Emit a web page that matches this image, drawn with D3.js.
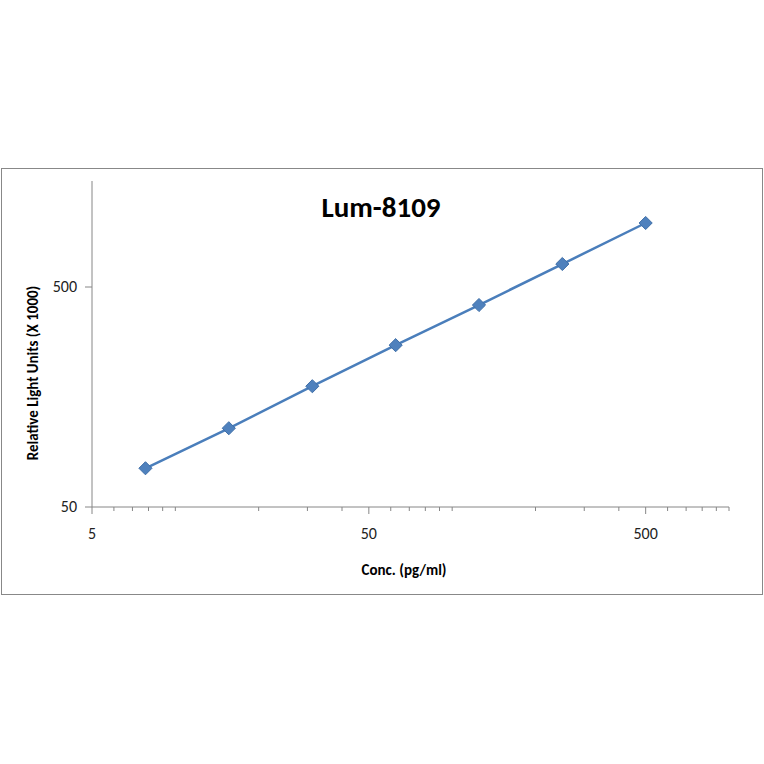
<!DOCTYPE html>
<html><head><meta charset="utf-8">
<script src="https://cdn.jsdelivr.net/npm/d3@7"></script>
<style>body{margin:0;background:#fff}svg{font-family:Calibri,"Liberation Sans",Arial,sans-serif}</style>
</head><body><div id="chart"></div>
<script>
// Standard curve data
var conc = [7.8, 15.6, 31.25, 62.5, 125, 250, 500];
var rlu = [75, 114, 177, 272, 414, 636, 977];
var xTicks = [5, 50, 500];
var yTicks = [50, 500];

var svg = d3.select('#chart').append('svg').attr('width', 764).attr('height', 764);
svg.append('rect').attr('x', 1.5).attr('y', 168.5).attr('width', 761).attr('height', 426)
  .attr('fill', '#fff').attr('stroke', '#888').attr('stroke-width', 1);

var x = d3.scaleLog().domain([5, 1000]).range([92, 729]);
var y = d3.scaleLog().domain([50, 50 * Math.pow(10, 326 / 220)]).range([507, 181]);

// minor ticks on x
var minor = [];
for (var dec = 1; dec <= 1000; dec *= 10) for (var k = 1; k < 10; k++) {
  var v = dec * k; if (v > 5 && v <= 1000 && xTicks.indexOf(v) < 0) minor.push(v);
}
var axisColor = '#868686';
svg.append('g').selectAll('line').data(minor).join('line')
  .attr('x1', x).attr('x2', x).attr('y1', 507).attr('y2', 511).attr('stroke', axisColor);
svg.append('g').selectAll('line').data(xTicks).join('line')
  .attr('x1', x).attr('x2', x).attr('y1', 507).attr('y2', 514).attr('stroke', axisColor);
svg.append('line').attr('x1', 92).attr('x2', 729).attr('y1', 507).attr('y2', 507).attr('stroke', axisColor);
svg.append('line').attr('x1', 92).attr('x2', 92).attr('y1', 181).attr('y2', 507).attr('stroke', axisColor);
svg.append('g').selectAll('line').data(yTicks).join('line')
  .attr('x1', 85).attr('x2', 92).attr('y1', y).attr('y2', y).attr('stroke', axisColor);

svg.append('g').selectAll('text').data(xTicks).join('text')
  .attr('x', x).attr('y', 539).attr('text-anchor', 'middle').attr('font-size', 16).attr('fill', '#222')
  .text(function (d) { return d; });
svg.append('g').selectAll('text').data(yTicks).join('text')
  .attr('x', 77).attr('y', function (d) { return y(d) + 5; }).attr('text-anchor', 'end')
  .attr('font-size', 16).attr('fill', '#222').text(function (d) { return d; });

svg.append('text').attr('x', 381).attr('y', 217).attr('text-anchor', 'middle')
  .attr('font-size', 29).attr('font-weight', 'bold').text('Lum-8109');
svg.append('text').attr('x', 404).attr('y', 575).attr('text-anchor', 'middle')
  .attr('font-size', 15).attr('font-weight', 'bold').text('Conc. (pg/ml)');
svg.append('text').attr('transform', 'translate(38,373) rotate(-90)').attr('text-anchor', 'middle')
  .attr('font-size', 15).attr('font-weight', 'bold').text('Relative Light Units (X 1000)');

var pts = conc.map(function (c, i) { return [c, rlu[i]]; });
svg.append('path').datum(pts)
  .attr('d', d3.line().x(function (d) { return x(d[0]); }).y(function (d) { return y(d[1]); }))
  .attr('fill', 'none').attr('stroke', '#4a7ebb').attr('stroke-width', 2.5);
svg.append('g').selectAll('path').data(pts).join('path')
  .attr('d', d3.symbol(d3.symbolDiamond2, 110))
  .attr('transform', function (d) { return 'translate(' + x(d[0]) + ',' + y(d[1]) + ')'; })
  .attr('fill', '#4f81bd').attr('stroke', '#3f6fa8').attr('stroke-width', 1);
</script></body></html>
